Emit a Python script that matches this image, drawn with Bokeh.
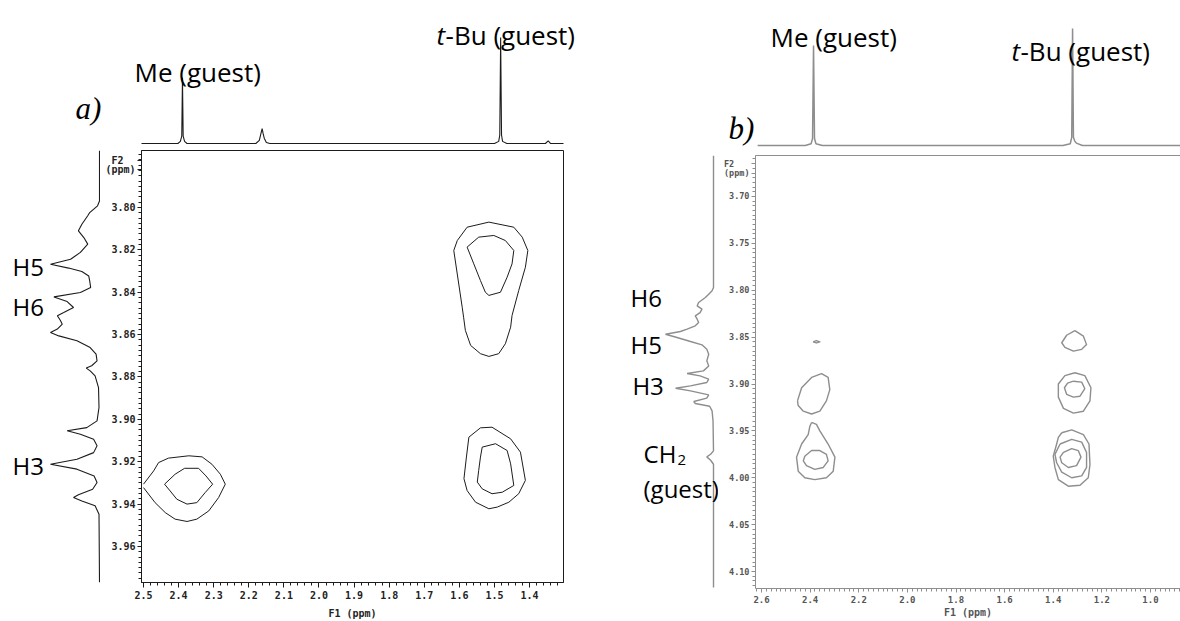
from bokeh.plotting import figure
from bokeh.models import Range1d, FixedTicker, PrintfTickFormatter, LinearAxis
from bokeh.layouts import row, column
from bokeh.embed import file_html
from bokeh.resources import INLINE
from bokeh.core.properties import value
import numpy as np

# ---------------- Panel a : data ----------------
a_xticks = [2.5, 2.4, 2.3, 2.2, 2.1, 2.0, 1.9, 1.8, 1.7, 1.6, 1.5, 1.4]
a_yticks = [3.80, 3.82, 3.84, 3.86, 3.88, 3.90, 3.92, 3.94, 3.96]
a_f2_label_pos = [3.7778, 3.7821]          # where "F2" and "(ppm)" sit on the F2 axis
a_f2_label_text = ["F2\u00a0\u00a0", "(ppm)"]

# F1 projection (top), ppm vs relative intensity
a_top_ppm = [2.5057, 2.402, 2.395, 2.391, 2.389, 2.387, 2.383, 2.376,
             2.180, 2.170, 2.165, 2.162, 2.159, 2.156, 2.150, 2.140,
             1.500, 1.488, 1.485, 1.4825, 1.480, 1.477, 1.465,
             1.355, 1.347, 1.340, 1.3034]
a_top_int = [0.0, 0.0, 0.02, 0.07, 0.62, 0.07, 0.02, 0.0,
             0.0, 0.03, 0.10, 0.14, 0.09, 0.05, 0.01, 0.0,
             0.0, 0.02, 0.08, 1.0, 0.08, 0.02, 0.0,
             0.0, 0.025, 0.0, 0.0]

# F2 projection (left)
a_side_ppm = [3.7731, 3.7969, 3.7992, 3.8024, 3.8039, 3.8079, 3.8110, 3.8142, 3.8173, 3.8212,
              3.8244, 3.8268, 3.8286, 3.8302, 3.8323, 3.8346, 3.8378, 3.8401, 3.8422, 3.8444,
              3.8472, 3.8496, 3.8511, 3.8532, 3.8551, 3.8574, 3.8590, 3.8606, 3.8629, 3.8661,
              3.8692, 3.8724, 3.8747, 3.8758, 3.8771, 3.8795, 3.8850, 3.8944, 3.9007, 3.9039,
              3.9054, 3.9070, 3.9094, 3.9125, 3.9157, 3.9188, 3.9212, 3.9235, 3.9267, 3.9298,
              3.9330, 3.9356, 3.9369, 3.9385, 3.9408, 3.9448, 3.9770]
a_side_int = [0.0, 0.0, 0.04, 0.20, 0.24, 0.36, 0.43, 0.32, 0.24, 0.39,
              0.59, 1.0, 0.63, 0.36, 0.22, 0.20, 0.18, 0.39, 0.93, 0.66,
              0.53, 0.73, 0.86, 0.80, 0.76, 0.86, 1.0, 0.83, 0.46, 0.19,
              0.07, 0.05, 0.16, 0.27, 0.19, 0.09, 0.02, 0.01, 0.05, 0.26,
              0.66, 0.39, 0.12, 0.05, 0.12, 0.46, 1.0, 0.46, 0.11, 0.05,
              0.14, 0.43, 0.53, 0.36, 0.09, 0.01, 0.0]

# contours (F1 ppm, F2 ppm)
a_me_outer_x = [2.500, 2.471, 2.457, 2.429, 2.371, 2.333, 2.305, 2.281, 2.267, 2.286, 2.314, 2.348, 2.376, 2.410, 2.438, 2.467, 2.500]
a_me_outer_y = [3.9306, 3.9243, 3.9204, 3.9183, 3.9172, 3.9177, 3.9212, 3.9259, 3.9306, 3.9369, 3.9432, 3.9471, 3.9482, 3.9471, 3.9440, 3.9393, 3.9322]
a_me_inner_x = [2.440, 2.410, 2.383, 2.343, 2.322, 2.303, 2.324, 2.348, 2.376, 2.405, 2.424]
a_me_inner_y = [3.9306, 3.9259, 3.9231, 3.9231, 3.9267, 3.9306, 3.9345, 3.9393, 3.9400, 3.9377, 3.9338]
a_tbu1_outer_x = [1.616, 1.606, 1.578, 1.516, 1.445, 1.421, 1.405, 1.412, 1.431, 1.450, 1.454, 1.469, 1.488, 1.516, 1.540, 1.568, 1.583, 1.588, 1.592]
a_tbu1_outer_y = [3.8203, 3.8156, 3.8093, 3.8069, 3.8093, 3.8140, 3.8203, 3.8282, 3.8392, 3.8510, 3.8565, 3.8643, 3.8690, 3.8703, 3.8690, 3.8651, 3.8580, 3.8518, 3.8471]
a_tbu1_inner_x = [1.578, 1.545, 1.502, 1.469, 1.445, 1.450, 1.464, 1.483, 1.516, 1.526, 1.540, 1.559]
a_tbu1_inner_y = [3.8187, 3.8140, 3.8132, 3.8156, 3.8203, 3.8266, 3.8329, 3.8400, 3.8415, 3.8400, 3.8345, 3.8266]
a_tbu2_outer_x = [1.573, 1.540, 1.507, 1.454, 1.426, 1.412, 1.431, 1.459, 1.492, 1.516, 1.554, 1.578, 1.587, 1.580]
a_tbu2_outer_y = [3.9084, 3.9040, 3.9037, 3.9092, 3.9155, 3.9288, 3.9351, 3.9391, 3.9414, 3.9422, 3.9391, 3.9336, 3.9280, 3.9178]
a_tbu2_inner_x = [1.535, 1.497, 1.464, 1.454, 1.445, 1.478, 1.507, 1.535, 1.549, 1.545, 1.540]
a_tbu2_inner_y = [3.9131, 3.9115, 3.9147, 3.9210, 3.9312, 3.9344, 3.9351, 3.9328, 3.9296, 3.9241, 3.9178]

# ---------------- Panel b : data ----------------
b_xticks = [2.6, 2.4, 2.2, 2.0, 1.8, 1.6, 1.4, 1.2, 1.0]
b_yticks = [3.70, 3.75, 3.80, 3.85, 3.90, 3.95, 4.00, 4.05, 4.10]
b_f2_label_pos = [3.6650, 3.6752]
b_f2_label_text = ["F2\u00a0\u00a0\u00a0", "(ppm)"]

b_top_ppm = [2.616, 2.420, 2.396, 2.390, 2.386, 2.382, 2.376, 2.350,
             1.360, 1.330, 1.324, 1.3205, 1.317, 1.312, 1.305, 1.280, 0.8766]
b_top_int = [0.0, 0.0, 0.015, 0.06, 0.855, 0.06, 0.015, 0.0,
             0.0, 0.015, 0.07, 1.0, 0.07, 0.04, 0.02, 0.0, 0.0]

b_side_ppm = [3.6563, 3.7971, 3.8006, 3.8042, 3.8078, 3.8131, 3.8166, 3.8202, 3.8238, 3.8273,
              3.8309, 3.8344, 3.8380, 3.8415, 3.8440, 3.8469, 3.8504, 3.8547, 3.8582, 3.8629,
              3.8682, 3.8753, 3.8807, 3.8860, 3.8888, 3.8913, 3.8949, 3.8984, 3.9020, 3.9045,
              3.9073, 3.9116, 3.9151, 3.9187, 3.9208, 3.9237, 3.9287, 3.9393, 3.9713, 3.9749,
              3.9777, 3.9813, 3.9856, 4.1171]
b_side_int = [0.0, 0.0, 0.03, 0.10, 0.17, 0.31, 0.34, 0.24, 0.28, 0.38,
              0.34, 0.31, 0.38, 0.55, 0.69, 1.0, 0.76, 0.48, 0.24, 0.14,
              0.10, 0.14, 0.10, 0.21, 0.55, 0.28, 0.10, 0.14, 0.48, 0.79,
              0.48, 0.10, 0.14, 0.41, 0.38, 0.08, 0.03, 0.01, 0.0, 0.06,
              0.14, 0.06, 0.0, 0.0]

b_me_dot_x = [2.388, 2.374, 2.360, 2.374]
b_me_dot_y = [3.8550, 3.8538, 3.8550, 3.8562]
b_me1_x = [2.452, 2.435, 2.394, 2.353, 2.326, 2.319, 2.333, 2.360, 2.394, 2.428, 2.449]
b_me1_y = [3.918, 3.904, 3.893, 3.889, 3.893, 3.906, 3.918, 3.929, 3.932, 3.929, 3.923]
b_me2_outer_x = [2.394, 2.374, 2.360, 2.326, 2.298, 2.305, 2.333, 2.381, 2.422, 2.449, 2.456, 2.435, 2.408, 2.401]
b_me2_outer_y = [3.941, 3.943, 3.950, 3.964, 3.978, 3.993, 4.000, 4.002, 4.000, 3.993, 3.978, 3.964, 3.954, 3.945]
b_me2_inner_x = [2.422, 2.394, 2.360, 2.333, 2.326, 2.346, 2.381, 2.415, 2.428]
b_me2_inner_y = [3.977, 3.971, 3.971, 3.975, 3.982, 3.989, 3.991, 3.987, 3.982]
b_tbu1_x = [1.311, 1.276, 1.263, 1.283, 1.317, 1.352, 1.365, 1.345]
b_tbu1_y = [3.843, 3.849, 3.858, 3.863, 3.865, 3.861, 3.856, 3.848]
b_tbu2_outer_x = [1.311, 1.270, 1.245, 1.249, 1.276, 1.317, 1.358, 1.379, 1.379, 1.352]
b_tbu2_outer_y = [3.888, 3.891, 3.904, 3.918, 3.929, 3.931, 3.926, 3.914, 3.900, 3.891]
b_tbu2_inner_x = [1.317, 1.283, 1.270, 1.290, 1.317, 1.345, 1.354, 1.341]
b_tbu2_inner_y = [3.897, 3.898, 3.905, 3.913, 3.914, 3.911, 3.904, 3.899]
b_tbu3_outer_x = [1.365, 1.324, 1.276, 1.253, 1.249, 1.256, 1.290, 1.338, 1.379, 1.393, 1.400, 1.386, 1.379]
b_tbu3_outer_y = [3.952, 3.949, 3.954, 3.964, 3.986, 4.000, 4.008, 4.009, 4.002, 3.989, 3.977, 3.964, 3.957]
b_tbu3_mid_x = [1.372, 1.324, 1.283, 1.263, 1.263, 1.283, 1.324, 1.365, 1.386, 1.393]
b_tbu3_mid_y = [3.964, 3.959, 3.962, 3.973, 3.989, 3.998, 4.000, 3.994, 3.984, 3.975]
b_tbu3_inner_x = [1.358, 1.324, 1.297, 1.286, 1.304, 1.338, 1.365, 1.372]
b_tbu3_inner_y = [3.973, 3.969, 3.971, 3.978, 3.987, 3.989, 3.984, 3.978]

# ---------------- styling ----------------
A_COL = "#1c1c1c"
B_COL = "#8e8e8e"
LAB_FONT = value("Open Sans")
TICK_FONT = "DejaVu Sans Mono"


def closed(v):
    return list(v) + [v[0]]


def plain(fig):
    fig.background_fill_color = "white"
    fig.border_fill_color = "white"
    fig.outline_line_color = None
    fig.grid.visible = False


def style_axis(ax, col, lab_col, size, out, standoff):
    ax.axis_line_color = col
    ax.major_tick_line_color = col
    ax.minor_tick_line_color = col
    ax.major_tick_out = out
    ax.major_tick_in = 0
    ax.minor_tick_out = 3
    ax.minor_tick_in = 0
    ax.major_label_text_font = TICK_FONT
    ax.major_label_text_font_style = "bold"
    ax.major_label_text_font_size = size
    ax.major_label_text_color = lab_col
    ax.major_label_standoff = standoff


common = dict(toolbar_location=None, output_backend="svg", title=None)

# ======== Panel a ========
ta = figure(width=580, height=150, x_range=Range1d(2.9074, 1.2550), y_range=Range1d(-0.066, 1.349),
            x_axis_type=None, y_axis_type=None, min_border=0, **common)
plain(ta)
ta.line(a_top_ppm, a_top_int, line_color=A_COL, line_width=1.1)
ta.text(x=[2.5256], y=[0.67], text=["Me (guest)"], text_font=LAB_FONT, text_font_size="26px",
        text_align="left", text_baseline="alphabetic", text_color="black")
ta.text(x=[1.6652], y=[1.019], text=["t"], text_font=LAB_FONT, text_font_size="26px",
        text_font_style="italic", text_align="left", text_baseline="alphabetic", text_color="black")
ta.text(x=[1.6652], y=[1.019], x_offset=9, text=["-Bu (guest)"], text_font=LAB_FONT, text_font_size="26px",
        text_align="left", text_baseline="alphabetic", text_color="black")
ta.text(x=[2.694], y=[0.33], text=["a)"], text_font=value("Liberation Serif"), text_font_size="31px",
        text_font_style="italic", text_align="left", text_baseline="alphabetic", text_color="black")

sa = figure(width=100, height=471, x_range=Range1d(2.0204, -0.0204), y_range=Range1d(3.9770, 3.7731),
            x_axis_type=None, y_axis_type=None, min_border_left=0, min_border_right=0,
            min_border_top=0, min_border_bottom=39, **common)
plain(sa)
sa.line(a_side_int, a_side_ppm, line_color=A_COL, line_width=1.1)
sa.text(x=[1.776, 1.776, 1.776], y=[3.8278, 3.8467, 3.9218], text=["H5", "H6", "H3"],
        text_font=LAB_FONT, text_font_size="24px", text_align="left", text_baseline="middle", text_color="black")

ma = figure(width=480, height=471, x_range=Range1d(2.5057, 1.3034), y_range=sa.y_range,
            min_border_left=41, min_border_right=17, min_border_top=0, min_border_bottom=39, **common)
ma.background_fill_color = "white"
ma.border_fill_color = "white"
ma.grid.visible = False
ma.outline_line_color = A_COL
ma.outline_line_width = 1
ma.xaxis.ticker = FixedTicker(ticks=a_xticks, minor_ticks=list(np.round(np.arange(2.52, 1.29, -0.02), 3)))
ma.yaxis.ticker = FixedTicker(ticks=a_f2_label_pos + a_yticks,
                              minor_ticks=list(np.round(np.arange(3.7725, 3.98, 0.0025), 4)))
ma.xaxis.formatter = PrintfTickFormatter(format="%.1f")
ma.yaxis.formatter = PrintfTickFormatter(format="%.2f")
ma.yaxis.major_label_overrides = dict(zip(a_f2_label_pos, a_f2_label_text))
style_axis(ma.xaxis[0], A_COL, "#222222", "10px", 5, 3)
style_axis(ma.yaxis[0], A_COL, "#222222", "10px", 4, 2)
ma.xaxis.axis_label = "F1 (ppm)"
ma.xaxis.axis_label_text_font = TICK_FONT
ma.xaxis.axis_label_text_font_style = "bold"
ma.xaxis.axis_label_text_font_size = "10px"
ma.xaxis.axis_label_text_color = "#222222"
ma.xaxis.axis_label_standoff = 6
for cx, cy, close in [(a_me_outer_x, a_me_outer_y, False), (a_me_inner_x, a_me_inner_y, True),
                      (a_tbu1_outer_x, a_tbu1_outer_y, True), (a_tbu1_inner_x, a_tbu1_inner_y, True),
                      (a_tbu2_outer_x, a_tbu2_outer_y, True), (a_tbu2_inner_x, a_tbu2_inner_y, True)]:
    xs = closed(cx) if close else cx
    ys = closed(cy) if close else cy
    ma.line(xs, ys, line_color=A_COL, line_width=1.0, line_join="round")

# ======== Panel b ========
tb = figure(width=600, height=150, x_range=Range1d(3.3445, 0.8766), y_range=Range1d(-0.0427, 1.239),
            x_axis_type=None, y_axis_type=None, min_border=0, **common)
plain(tb)
tb.line(b_top_ppm, b_top_int, line_color=B_COL, line_width=1.5)
tb.text(x=[2.563], y=[0.93], text=["Me (guest)"], text_font=LAB_FONT, text_font_size="26px",
        text_align="left", text_baseline="alphabetic", text_color="black")
tb.text(x=[1.5717], y=[0.81], text=["t"], text_font=LAB_FONT, text_font_size="26px",
        text_font_style="italic", text_align="left", text_baseline="alphabetic", text_color="black")
tb.text(x=[1.5717], y=[0.81], x_offset=9, text=["-Bu (guest)"], text_font=LAB_FONT, text_font_size="26px",
        text_align="left", text_baseline="alphabetic", text_color="black")
tb.text(x=[2.7357], y=[0.145], text=["b)"], text_font=value("Liberation Serif"), text_font_size="31px",
        text_font_style="italic", text_align="left", text_baseline="alphabetic", text_color="black")

sb = figure(width=138, height=471, x_range=Range1d(2.771, -0.104), y_range=Range1d(4.1181, 3.6563),
            x_axis_type=None, y_axis_type=None, min_border_left=0, min_border_right=0,
            min_border_top=5, min_border_bottom=33, **common)
plain(sb)
sb.line(b_side_int, b_side_ppm, line_color=B_COL, line_width=1.4)
sb.text(x=[1.729, 1.729, 1.69], y=[3.8077, 3.8579, 3.9016], text=["H6", "H5", "H3"],
        text_font=LAB_FONT, text_font_size="24px", text_align="left", text_baseline="middle", text_color="black")
sb.text(x=[1.458], y=[3.9741], text=["CH"], text_font=LAB_FONT, text_font_size="24px",
        text_align="left", text_baseline="middle", text_color="black")
sb.text(x=[1.458], y=[3.9741], x_offset=34, y_offset=7, text=["2"], text_font=LAB_FONT, text_font_size="15px",
        text_align="left", text_baseline="middle", text_color="black")
sb.text(x=[1.458], y=[4.0115], text=["(guest)"], text_font=LAB_FONT, text_font_size="24px",
        text_align="left", text_baseline="middle", text_color="black")

mb = figure(width=462, height=471, x_range=Range1d(2.6247, 0.8766), y_range=sb.y_range,
            min_border_left=37, min_border_right=0, min_border_top=5, min_border_bottom=33, **common)
mb.background_fill_color = "white"
mb.border_fill_color = "white"
mb.grid.visible = False
mb.outline_line_color = None
mb.xaxis.ticker = FixedTicker(ticks=b_xticks, minor_ticks=list(np.round(np.arange(2.62, 0.87, -0.02), 3)))
mb.yaxis.ticker = FixedTicker(ticks=b_f2_label_pos + b_yticks,
                              minor_ticks=list(np.round(np.arange(3.655, 4.12, 0.005), 3)))
mb.xaxis.formatter = PrintfTickFormatter(format="%.1f")
mb.yaxis.formatter = PrintfTickFormatter(format="%.2f")
mb.yaxis.major_label_overrides = dict(zip(b_f2_label_pos, b_f2_label_text))
style_axis(mb.xaxis[0], B_COL, "#555555", "9px", 4, 3)
style_axis(mb.yaxis[0], B_COL, "#555555", "8.5px", 4, 2)
mb.xaxis.axis_label = "F1 (ppm)"
mb.xaxis.axis_label_text_font = TICK_FONT
mb.xaxis.axis_label_text_font_style = "bold"
mb.xaxis.axis_label_text_font_size = "10px"
mb.xaxis.axis_label_text_color = "#555555"
mb.xaxis.axis_label_standoff = 1
top_ax = LinearAxis(ticker=FixedTicker(ticks=[]), major_tick_out=0, major_tick_in=0,
                    minor_tick_out=0, minor_tick_in=0, major_label_standoff=0,
                    axis_line_color=B_COL, axis_line_width=1.2)
mb.add_layout(top_ax, "above")
for cx, cy in [(b_me_dot_x, b_me_dot_y), (b_me1_x, b_me1_y), (b_me2_outer_x, b_me2_outer_y),
               (b_me2_inner_x, b_me2_inner_y), (b_tbu1_x, b_tbu1_y), (b_tbu2_outer_x, b_tbu2_outer_y),
               (b_tbu2_inner_x, b_tbu2_inner_y), (b_tbu3_outer_x, b_tbu3_outer_y),
               (b_tbu3_mid_x, b_tbu3_mid_y), (b_tbu3_inner_x, b_tbu3_inner_y)]:
    mb.line(closed(cx), closed(cy), line_color=B_COL, line_width=1.4, line_join="round")

panel_a = column(ta, row(sa, ma, spacing=0), spacing=0)
panel_b = column(tb, row(sb, mb, spacing=0), spacing=0)
layout = row(panel_a, panel_b, spacing=0)

open("out.html", "w").write(file_html(layout, INLINE))
